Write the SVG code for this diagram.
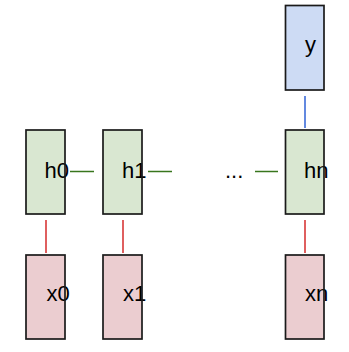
<svg xmlns="http://www.w3.org/2000/svg" width="349" height="352" viewBox="0 0 349 352">
<style>
.edge{fill:none;stroke:#1a1a1a;stroke-width:1.7}
.g{fill:#d9e7d1}
.r{fill:#ebcdd0}
.b{fill:#cddbf4}
text{font-family:"Liberation Sans",Arial,sans-serif;font-size:22px;fill:#000}
.lg{stroke:#38761d;stroke-width:1.5}
.lr{stroke:#d42a2a;stroke-width:1.5}
.lb{stroke:#2f62d6;stroke-width:1.5}
</style>
<rect width="349" height="352" fill="#fff"/>
<g id="connectors">
<line class="lb" x1="305" y1="96" x2="305" y2="128"/>
<line class="lg" x1="70" y1="171.5" x2="94" y2="171.5"/>
<line class="lg" x1="148" y1="171.5" x2="172" y2="171.5"/>
<line class="lg" x1="255" y1="171.5" x2="278" y2="171.5"/>
<line class="lr" x1="46" y1="220" x2="46" y2="253"/>
<line class="lr" x1="123" y1="220" x2="123" y2="253"/>
<line class="lr" x1="305" y1="220" x2="305" y2="253"/>
</g>
<g id="y">
<rect class="b" x="285.5" y="5.5" width="38.5" height="84.5"/>
<text x="305" y="52">y</text>
<rect class="edge" x="285.5" y="5.5" width="38.5" height="84.5"/>
</g>
<g id="h0">
<rect class="g" x="26" y="130" width="39" height="84"/>
<text x="44.5" y="177.5">h0</text>
<rect class="edge" x="26" y="130" width="39" height="84"/>
</g>
<g id="h1">
<rect class="g" x="103" y="130" width="39" height="84"/>
<text x="122" y="177.5">h1</text>
<rect class="edge" x="103" y="130" width="39" height="84"/>
</g>
<g id="dots">
<text x="225" y="177.5">...</text>
</g>
<g id="hn">
<rect class="g" x="285.5" y="130" width="38.5" height="84"/>
<text x="304" y="177.5">hn</text>
<rect class="edge" x="285.5" y="130" width="38.5" height="84"/>
</g>
<g id="x0">
<rect class="r" x="26" y="255" width="39" height="84"/>
<text x="46.5" y="301">x0</text>
<rect class="edge" x="26" y="255" width="39" height="84"/>
</g>
<g id="x1">
<rect class="r" x="103" y="255" width="39" height="84"/>
<text x="123" y="301">x1</text>
<rect class="edge" x="103" y="255" width="39" height="84"/>
</g>
<g id="xn">
<rect class="r" x="285.5" y="255" width="38.5" height="84"/>
<text x="305" y="301">xn</text>
<rect class="edge" x="285.5" y="255" width="38.5" height="84"/>
</g>
</svg>
